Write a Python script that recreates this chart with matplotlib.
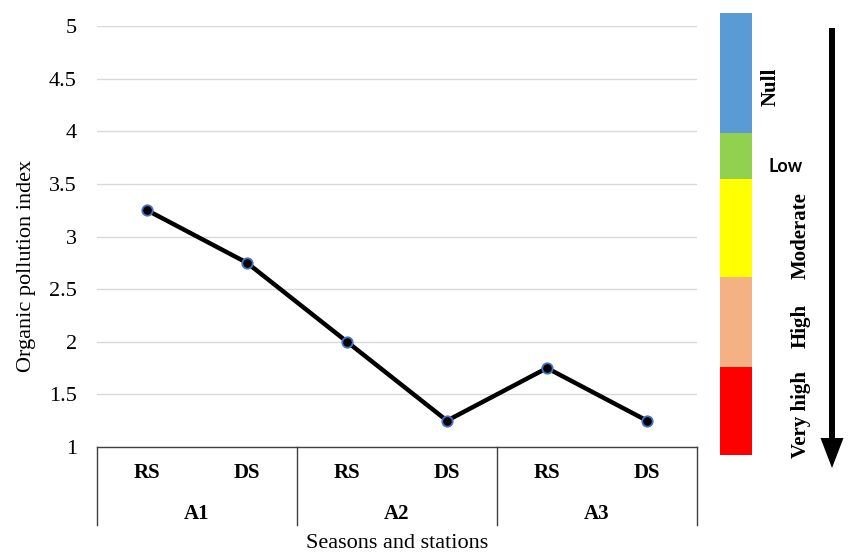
import matplotlib
matplotlib.use("Agg")
from matplotlib import pyplot as plt
from matplotlib import transforms

# data
seasons = ["RS", "DS", "RS", "DS", "RS", "DS"]
stations = ["A1", "A2", "A3"]
opi = [3.25, 2.75, 2.0, 1.25, 1.75, 1.25]
yticks = [1, 1.5, 2, 2.5, 3, 3.5, 4, 4.5, 5]

# scale on the right (bottom to top)
classes = ["Very high", "High", "Moderate", "Low", "Null"]
class_sizes = [88, 90, 98, 46, 120]
class_colors = ["#FF0000", "#F4B183", "#FFFF00", "#92D050", "#5B9BD5"]

plt.rcParams["font.family"] = ["Liberation Serif", "DejaVu Serif"]

W, H = 850, 553
fig = plt.figure(figsize=(W / 100, H / 100), dpi=100)

def fx(px):
    return px / W

def fy(py):
    return 1 - py / H

ax = fig.add_axes([fx(97), fy(447), fx(697) - fx(97), fy(26) - fy(447)])
x = list(range(1, len(opi) + 1))
ax.plot(x, opi, color="black", lw=3.2, marker="o", ms=7.5,
        mfc="black", mec="#4472C4", mew=1.3, zorder=3)
ax.set_xlim(0.5, len(opi) + 0.5)
ax.set_ylim(1, 5)
ax.set_yticks(yticks)
ax.set_yticklabels([f"{v:g}" for v in yticks], fontsize=16)
ax.tick_params(axis="y", length=0, pad=14.5)
ax.grid(axis="y", color="#D9D9D9", lw=1)
ax.set_axisbelow(True)
for s in ["top", "right", "left"]:
    ax.spines[s].set_visible(False)
ax.spines["bottom"].set_color("#404040")
ax.spines["bottom"].set_linewidth(1)
ax.set_xticks([])
ax.set_ylabel("Organic pollution index", fontsize=16)
ax.yaxis.set_label_coords(-0.102, 0.43)

# two-level category axis
trans = transforms.blended_transform_factory(ax.transData, ax.transAxes)
ybox = (447 - 525) / 421
for i in range(len(stations) + 1):
    xb = 0.5 + 2 * i
    ax.plot([xb, xb], [0, ybox], color="#404040", lw=1, transform=trans,
            clip_on=False)
for xi, s in zip(x, seasons):
    ax.text(xi, (447 - 473) / 421, s, transform=trans, ha="center",
            va="center", fontsize=15, fontweight="bold")
for i, st in enumerate(stations):
    ax.text(1.5 + 2 * i, (447 - 514) / 421, st, transform=trans,
            ha="center", va="center", fontsize=15, fontweight="bold")
ax.text(3.5, (447 - 543) / 421, "Seasons and stations", transform=trans,
        ha="center", va="center", fontsize=16)

# colour scale with arrow
ov = fig.add_axes([0, 0, 1, 1])
ov.set_xlim(0, W)
ov.set_ylim(H, 0)
ov.axis("off")
bottom = 455
for name, size, col in zip(classes, class_sizes, class_colors):
    ov.bar(736, -size, width=32, bottom=bottom, color=col, lw=0)
    bottom -= size

ov.arrow(832, 28, 0, 440, width=6, head_width=23, head_length=30,
         length_includes_head=True, color="black", lw=0)

ov.text(771, 87, "Null", rotation=90, ha="center", va="center",
        fontsize=15, fontweight="bold")
ov.text(786, 166, "Low", ha="center", va="center", fontsize=13,
        fontweight="bold", family=["Lato", "DejaVu Sans"])
ov.text(801, 236, "Moderate", rotation=90, ha="center", va="center",
        fontsize=15, fontweight="bold")
ov.text(801, 326, "High", rotation=90, ha="center", va="center",
        fontsize=15, fontweight="bold")
ov.text(801, 414, "Very high", rotation=90, ha="center", va="center",
        fontsize=15, fontweight="bold")

fig.savefig("out.png", dpi=100)
